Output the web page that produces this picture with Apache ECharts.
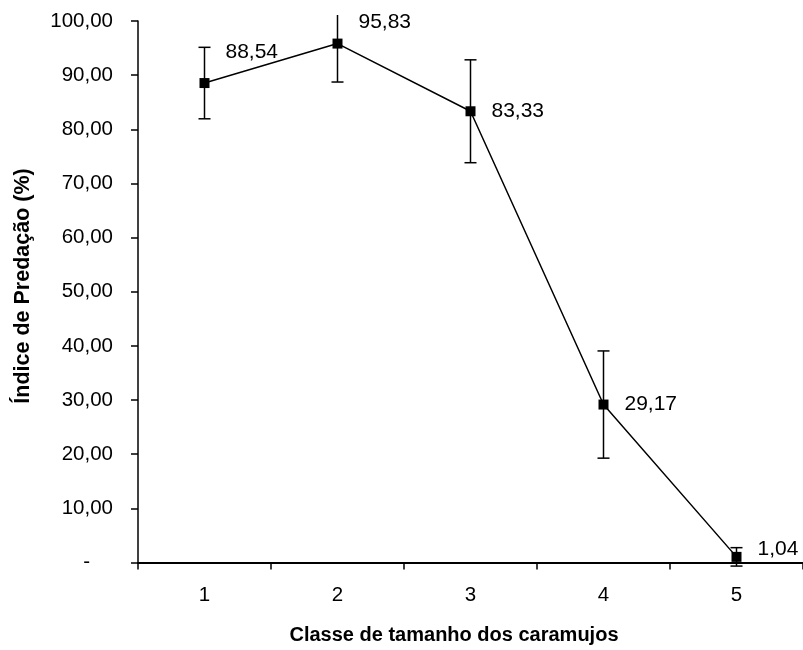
<!DOCTYPE html>
<html>
<head>
<meta charset="utf-8">
<script src="https://cdn.jsdelivr.net/npm/echarts@6/dist/echarts.min.js"></script>
<style>html,body{margin:0;padding:0;background:#fff;}#c{width:803px;height:650px;}</style>
</head>
<body>
<div id="c"></div>
<script>
const categories = ['1', '2', '3', '4', '5'];
const values = [88.54, 95.83, 83.33, 29.17, 1.04];
const errors = [6.6, 7.1, 9.5, 9.9, 1.7];
const yTicks = [0, 10, 20, 30, 40, 50, 60, 70, 80, 90, 100];
const labelOffsetY = [-31, -21, 0, 0, -8];

const FONT = '"Liberation Sans", Arial, sans-serif';
const chart = echarts.init(document.getElementById('c'), null, {renderer: 'canvas'});

function fmt(v) {
  if (v === 0) return '{d|-}';
  return v.toFixed(2).replace('.', ',');
}

chart.setOption({
  backgroundColor: '#fff',
  animation: false,
  textStyle: {fontFamily: FONT},
  grid: {left: 138, top: 21, width: 665, height: 541.5, containLabel: false},
  xAxis: {
    type: 'category',
    data: categories,
    boundaryGap: true,
    axisLine: {lineStyle: {color: '#000', width: 2}},
    axisTick: {show: true, inside: false, length: 7, lineStyle: {color: '#000', width: 1.5}},
    axisLabel: {color: '#000', fontSize: 20.5, fontFamily: FONT, margin: 22},
    splitLine: {show: false}
  },
  yAxis: {
    type: 'value',
    min: yTicks[0],
    max: yTicks[yTicks.length - 1],
    interval: 10,
    axisLine: {show: true, lineStyle: {color: '#000', width: 1.5}},
    axisTick: {show: true, inside: false, length: 7, lineStyle: {color: '#000', width: 1.5}},
    axisLabel: {
      color: '#000', fontSize: 20.5, fontFamily: FONT, margin: 25,
      formatter: fmt,
      rich: {d: {color: '#000', fontSize: 20.5, fontFamily: FONT, padding: [0, 23, 0, 0]}}
    },
    splitLine: {show: false}
  },
  graphic: [{
    type: 'text',
    x: 454, y: 635,
    style: {
      text: 'Classe de tamanho dos caramujos',
      font: 'bold 20px ' + FONT,
      fill: '#000',
      textAlign: 'center',
      textVerticalAlign: 'middle'
    }
  }, {
    type: 'text',
    x: 23, y: 286,
    rotation: Math.PI / 2,
    style: {
      text: 'Índice de Predação (%)',
      font: 'bold 21.5px ' + FONT,
      fill: '#000',
      textAlign: 'center',
      textVerticalAlign: 'middle'
    }
  }],
  series: [
    {
      type: 'custom',
      name: 'err',
      clip: false,
      z: 2,
      data: values.map((v, i) => [i, v - errors[i], v + errors[i]]),
      renderItem: function (params, api) {
        const idx = api.value(0);
        const lo = api.coord([idx, api.value(1)]);
        const hi = api.coord([idx, api.value(2)]);
        const limit = params.coordSys.y - 6;
        const clipped = hi[1] < limit;
        const topY = clipped ? limit : hi[1];
        const x = lo[0];
        const cap = 6;
        const style = {stroke: '#000', lineWidth: 1.5, fill: null};
        const children = [
          {type: 'line', shape: {x1: x, y1: lo[1], x2: x, y2: topY}, style: style},
          {type: 'line', shape: {x1: x - cap, y1: lo[1], x2: x + cap, y2: lo[1]}, style: style}
        ];
        if (!clipped) {
          children.push({type: 'line', shape: {x1: x - cap, y1: topY, x2: x + cap, y2: topY}, style: style});
        }
        return {type: 'group', children: children};
      }
    },
    {
      type: 'line',
      z: 3,
      data: values.map((v, i) => ({
        value: v,
        label: {offset: [0, labelOffsetY[i]]}
      })),
      symbol: 'rect',
      symbolSize: 10,
      itemStyle: {color: '#000'},
      lineStyle: {color: '#000', width: 1.5},
      label: {
        show: true,
        position: 'right',
        distance: 16,
        color: '#000',
        fontSize: 21,
        fontFamily: FONT,
        formatter: p => p.value.toFixed(2).replace('.', ',')
      }
    }
  ]
});
</script>
</body>
</html>
